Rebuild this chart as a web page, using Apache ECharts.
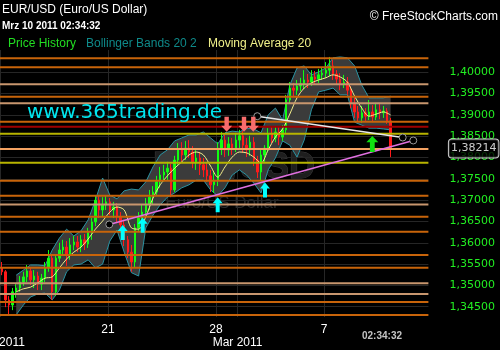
<!DOCTYPE html>
<html><head><meta charset="utf-8">
<script src="https://cdn.jsdelivr.net/npm/echarts@6/dist/echarts.min.js"></script>
<style>html,body{margin:0;padding:0;background:#000;}#c{width:500px;height:350px;}</style>
</head><body><div id="c"></div>
<script>
// ---- data (4-hour candles, EUR/USD, Feb 14 - Mar 10 2011) ----
const tradingDays = ['02-14','02-15','02-16','02-17','02-18','02-21','02-22','02-23','02-24','02-25',
  '02-28','03-01','03-02','03-03','03-04','03-07','03-08','03-09','03-10'];
const slotHours = ['00','04','08','12','16','20'];
const openP = [1.3541,1.3532,1.3466,1.3454,1.3485,1.3494,1.3508,1.3520,1.3534,1.3513,1.3522,1.3503,1.3517,1.3541,1.3564,1.3485,1.3564,1.3583,1.3590,1.3571,1.3595,1.3602,1.3590,1.3607,1.3597,1.3625,1.3649,1.3700,1.3677,1.3689,1.3696,1.3677,1.3684,1.3661,1.3642,1.3607,1.3578,1.3555,1.3635,1.3658,1.3672,1.3691,1.3707,1.3719,1.3743,1.3759,1.3766,1.3775,1.3724,1.3794,1.3818,1.3806,1.3822,1.3813,1.3790,1.3799,1.3783,1.3771,1.3757,1.3736,1.3747,1.3822,1.3841,1.3818,1.3832,1.3822,1.3841,1.3851,1.3829,1.3818,1.3836,1.3794,1.3766,1.3806,1.3822,1.3855,1.3846,1.3860,1.3848,1.3865,1.3935,1.3963,1.3958,1.3968,1.3973,1.3982,1.3977,1.3989,1.3984,1.3994,1.3998,1.4005,1.4015,1.3996,1.3984,1.3973,1.3977,1.3958,1.3928,1.3907,1.3893,1.3905,1.3897,1.3907,1.3895,1.3912,1.3905,1.3909,1.3886];
const closeP = [1.3532,1.3466,1.3454,1.3485,1.3494,1.3508,1.3520,1.3534,1.3513,1.3522,1.3503,1.3517,1.3541,1.3564,1.3485,1.3564,1.3583,1.3590,1.3571,1.3595,1.3602,1.3590,1.3607,1.3597,1.3625,1.3649,1.3700,1.3677,1.3689,1.3696,1.3677,1.3684,1.3661,1.3642,1.3607,1.3578,1.3555,1.3635,1.3658,1.3672,1.3691,1.3707,1.3719,1.3743,1.3759,1.3766,1.3775,1.3724,1.3794,1.3818,1.3806,1.3822,1.3813,1.3790,1.3799,1.3783,1.3771,1.3757,1.3736,1.3747,1.3822,1.3841,1.3818,1.3832,1.3822,1.3841,1.3851,1.3829,1.3818,1.3836,1.3794,1.3766,1.3806,1.3822,1.3855,1.3846,1.3860,1.3848,1.3865,1.3935,1.3963,1.3958,1.3968,1.3973,1.3982,1.3977,1.3989,1.3984,1.3994,1.3998,1.4005,1.4015,1.3996,1.3984,1.3973,1.3977,1.3958,1.3928,1.3907,1.3893,1.3905,1.3897,1.3907,1.3895,1.3912,1.3905,1.3909,1.3886,1.38214];
const lowP = [1.3524,1.3449,1.3431,1.3442,1.3471,1.3485,1.3499,1.3508,1.3501,1.3494,1.3489,1.3489,1.3508,1.3532,1.3466,1.3475,1.3555,1.3569,1.3546,1.3560,1.3583,1.3578,1.3578,1.3583,1.3588,1.3607,1.3639,1.3658,1.3661,1.3677,1.3665,1.3658,1.3646,1.3625,1.3592,1.3564,1.3532,1.3541,1.3625,1.3649,1.3663,1.3677,1.3691,1.3710,1.3729,1.3743,1.3747,1.3707,1.3719,1.3783,1.3790,1.3794,1.3799,1.3775,1.3771,1.3759,1.3754,1.3743,1.3719,1.3717,1.3733,1.3806,1.3801,1.3804,1.3806,1.3813,1.3822,1.3811,1.3801,1.3804,1.3780,1.3752,1.3747,1.3790,1.3813,1.3834,1.3836,1.3829,1.3839,1.3855,1.3926,1.3944,1.3947,1.3956,1.3961,1.3963,1.3968,1.3973,1.3975,1.3982,1.3987,1.3991,1.3982,1.3970,1.3958,1.3963,1.3947,1.3916,1.3893,1.3883,1.3881,1.3886,1.3888,1.3883,1.3888,1.3890,1.3893,1.3879,1.3801];
const highP = [1.3555,1.3536,1.3475,1.3494,1.3503,1.3522,1.3532,1.3548,1.3541,1.3536,1.3532,1.3527,1.3555,1.3583,1.3571,1.3571,1.3600,1.3607,1.3604,1.3611,1.3616,1.3616,1.3618,1.3621,1.3635,1.3658,1.3712,1.3710,1.3707,1.3710,1.3705,1.3696,1.3693,1.3672,1.3654,1.3616,1.3595,1.3644,1.3672,1.3691,1.3705,1.3724,1.3733,1.3757,1.3778,1.3783,1.3790,1.3785,1.3804,1.3834,1.3836,1.3839,1.3841,1.3827,1.3818,1.3813,1.3799,1.3787,1.3771,1.3766,1.3836,1.3860,1.3853,1.3848,1.3846,1.3858,1.3865,1.3862,1.3846,1.3851,1.3848,1.3804,1.3818,1.3829,1.3869,1.3872,1.3874,1.3872,1.3876,1.3947,1.3977,1.3975,1.3982,1.3987,1.4005,1.3996,1.4005,1.4003,1.4008,1.4012,1.4024,1.4036,1.4029,1.4005,1.3998,1.3994,1.3989,1.3968,1.3940,1.3921,1.3921,1.3916,1.3935,1.3923,1.3928,1.3926,1.3921,1.3916,1.3893];

// Bollinger bands (20,2) and MA 20, read at every second candle
const bandIdx = [4,6,8,10,12,14,16,18,20,22,24,26,28,30,32,34,36,38,40,42,44,46,48,50,52,54,56,58,60,62,64,66,68,70,72,74,76,78,80,82,84,86,88,90,92,94,96,98,100,102,104,106,108];
const bbUpper = [1.3524,1.3536,1.3548,1.3548,1.3546,1.3583,1.3611,1.3632,1.3616,1.3628,1.3654,1.3700,1.3752,1.3712,1.3703,1.3722,1.3726,1.3724,1.3743,1.3778,1.3806,1.3818,1.3839,1.3846,1.3853,1.3853,1.3860,1.3846,1.3832,1.3858,1.3862,1.3860,1.3869,1.3867,1.3858,1.3900,1.3916,1.3888,1.3970,1.4010,1.4015,1.3994,1.4001,1.4010,1.4034,1.4036,1.4034,1.4015,1.3970,1.3940,1.3940,1.3940,1.3944];
const bbLower = [1.3431,1.3454,1.3473,1.3480,1.3482,1.3466,1.3489,1.3532,1.3548,1.3550,1.3560,1.3541,1.3550,1.3604,1.3630,1.3578,1.3530,1.3522,1.3635,1.3665,1.3689,1.3707,1.3717,1.3729,1.3736,1.3747,1.3747,1.3724,1.3710,1.3729,1.3759,1.3771,1.3759,1.3740,1.3717,1.3771,1.3799,1.3839,1.3829,1.3801,1.3841,1.3912,1.3954,1.3958,1.3963,1.3947,1.3947,1.3883,1.3876,1.3869,1.3869,1.3867,1.3865];
const ma20 = [1.3485,1.3492,1.3496,1.3506,1.3517,1.3520,1.3541,1.3562,1.3578,1.3590,1.3609,1.3632,1.3651,1.3672,1.3684,1.3677,1.3635,1.3632,1.3661,1.3705,1.3736,1.3757,1.3775,1.3790,1.3806,1.3813,1.3806,1.3780,1.3754,1.3778,1.3801,1.3813,1.3811,1.3801,1.3787,1.3818,1.3848,1.3867,1.3902,1.3940,1.3963,1.3975,1.3982,1.3987,1.3994,1.3989,1.3977,1.3944,1.3916,1.3897,1.3902,1.3907,1.3900];

// horizontal price levels
const levelPrices = [1.40329,1.40117,1.39719,1.39428,1.39273,1.38841,1.38724,1.38560,1.38201,1.37879,1.37457,1.37102,1.36899,1.36612,1.36260,1.35714,1.35416,1.35050,1.34799,1.34608,1.34307];
const levelKinds  = ['o','o','t','o','t','o','r','y','s','y','o','o','t','o','o','o','o','t','t','o','o'];

// trend lines & signal arrows: [candle-slot position, price]
const trendWhite  = [[71.47,1.3897],[111.86,1.3847]];
const trendViolet = [[30.36,1.3643],[114.8,1.3840]];
const arrowsCyanUp  = [[34.08,1.3624],[39.64,1.3641],[60.47,1.3689],[73.61,1.3724]];
const arrowsGreenUp = [[103.42,1.3832]];
const arrowsRedDown = [[62.96,1.3878],[67.78,1.3878],[70.36,1.3878]];
const lastPrice = 1.38214;

const yTicks = [1.345,1.350,1.355,1.360,1.365,1.370,1.375,1.380,1.385,1.390,1.395,1.400];
const xTickSlots  = [0, 30, 60, 66, 90];
const xTickLabels = ['\nFeb 2011', '21', '28', '\nMar 2011', '7'];
const totalSlots = 119;

// ---- build ----
const categories = [];
tradingDays.forEach(d => slotHours.forEach(h => categories.push('2011-' + d + ' ' + h + ':00')));
categories.length = openP.length;
while (categories.length < totalSlots) categories.push('');

const candleData = openP.map((o, i) => [o, closeP[i], lowP[i], highP[i]]);
const levelColor = {o:'#c8640a', t:'#c8966e', r:'#a00000', y:'#b8b400', s:'#f4a262'};

const series = [
  {name:'bbBase', type:'line', xAxisIndex:0, stack:'bb', symbol:'none', silent:true, z:1,
   lineStyle:{opacity:0}, data: bandIdx.map((x,k)=>[x, bbLower[k]])},
  {name:'bbFill', type:'line', xAxisIndex:0, stack:'bb', symbol:'none', silent:true, z:1,
   lineStyle:{opacity:0}, areaStyle:{color:'#3b3b3b', opacity:1},
   data: bandIdx.map((x,k)=>[x, +(bbUpper[k]-bbLower[k]).toFixed(5)])},
  {name:'bbUpper', type:'line', xAxisIndex:0, symbol:'none', silent:true, z:2,
   lineStyle:{color:'#2a93a3', width:1}, data: bandIdx.map((x,k)=>[x, bbUpper[k]])},
  {name:'bbLower', type:'line', xAxisIndex:0, symbol:'none', silent:true, z:2,
   lineStyle:{color:'#2a93a3', width:1}, data: bandIdx.map((x,k)=>[x, bbLower[k]])},
  {name:'Price History', type:'candlestick', xAxisIndex:0, z:3, barMaxWidth:2.4,
   itemStyle:{color:'#11ff11', color0:'#ff1a1a', borderColor:'#11ff11', borderColor0:'#ff1a1a', borderWidth:1},
   data: candleData},
  {name:'MA20', type:'line', xAxisIndex:0, symbol:'none', silent:true, z:4, smooth:0.3,
   lineStyle:{color:'#f4ee8c', width:1}, data: bandIdx.map((x,k)=>[x, ma20[k]])}
];
levelPrices.forEach((v, k) => {
  series.push({type:'line', xAxisIndex:1, symbol:'none', silent:true, z:5,
    lineStyle:{color: levelColor[levelKinds[k]], width:2}, data:[[0, v],[totalSlots, v]]});
});
series.push({type:'line', xAxisIndex:1, z:6, silent:true, symbol:'circle', symbolSize:7,
  itemStyle:{color:'#000', borderColor:'#9a9a9a', borderWidth:1},
  lineStyle:{color:'#e8e8e8', width:1.5}, data: trendWhite});
series.push({type:'line', xAxisIndex:1, z:6, silent:true, symbol:'circle', symbolSize:7,
  itemStyle:{color:'#000', borderColor:'#9a9a9a', borderWidth:1},
  lineStyle:{color:'#e070e0', width:1.5}, data: trendViolet});
const upPath = 'path://M5,0 L10,6 L7,6 L7,15 L3,15 L3,6 L0,6 Z';
const downPath = 'path://M3,0 L7,0 L7,9 L10,9 L5,15 L0,9 L3,9 Z';
series.push({type:'scatter', xAxisIndex:1, z:7, silent:true, symbol:upPath, symbolSize:[10,15],
  itemStyle:{color:'#00ffff', opacity:1}, data: arrowsCyanUp});
series.push({type:'scatter', xAxisIndex:1, z:7, silent:true, symbol:upPath, symbolSize:[12,16],
  itemStyle:{color:'#10e010', opacity:1}, data: arrowsGreenUp});
series.push({type:'scatter', xAxisIndex:1, z:7, silent:true, symbol:downPath, symbolSize:[11,15],
  itemStyle:{color:'#f86c6c', opacity:1}, data: arrowsRedDown});
series.push({type:'scatter', xAxisIndex:1, z:8, silent:true, symbolSize:1, clip:false,
  itemStyle:{color:'rgba(0,0,0,0)'}, data:[[totalSlots, lastPrice]],
  label:{show:true, position:'right', distance:20, formatter: p => p.value[1].toFixed(5).replace('.', ','),
    color:'#ffffff', fontFamily:'DejaVu Sans', fontSize:11, backgroundColor:'#000',
    borderColor:'#ffffff', borderWidth:1, borderRadius:3, padding:[4,2,3,2]}});

const chart = echarts.init(document.getElementById('c'), null, {renderer:'canvas'});
chart.setOption({
  backgroundColor:'#000',
  animation:false,
  grid:{left:0, right:71.6, top:50, bottom:33, containLabel:false, outerBoundsMode:'none'},
  xAxis:[
    {type:'category', data:categories, boundaryGap:true, show:false},
    {type:'value', min:0, max:totalSlots, position:'bottom',
     axisLine:{show:false}, axisTick:{show:false, customValues:xTickSlots},
     axisLabel:{customValues:xTickSlots, color:'#ffffff', fontFamily:'Liberation Sans', fontSize:12, lineHeight:13, margin:6,
       formatter: v => { const k = xTickSlots.indexOf(Math.round(v)); return k >= 0 ? xTickLabels[k] : ''; }},
     splitLine:{show:true, lineStyle:{color:'#262626', width:1}}}
  ],
  yAxis:{type:'value', position:'right', min:1.34259, max:1.40523, scale:true,
    axisLine:{show:false}, axisTick:{show:false, customValues:yTicks},
    axisLabel:{customValues:yTicks, color:'#22ee22', fontFamily:'DejaVu Sans', fontSize:11, margin:21,
      formatter: v => v.toFixed(5).replace('.', ',')},
    splitLine:{show:true, lineStyle:{color:'#262626', width:1}}},
  graphic:[
    {type:'text', z:0, x:153, y:150, style:{text:'EUR/USD', font:'bold 36px "Liberation Sans"', fill:'#1e1e1e', stroke:'#3c3c3c', lineWidth:1, verticalAlign:'top'}},
    {type:'text', z:0, x:222, y:203, style:{text:'Euro/US Dollar', font:'17px "Liberation Sans"', fill:'#2c2c2c', align:'center', verticalAlign:'middle'}},
    {type:'text', z:100, x:2, y:10, style:{text:'EUR/USD (Euro/US Dollar)', font:'12px "Liberation Sans"', fill:'#ffffff', verticalAlign:'middle'}},
    {type:'text', z:100, x:2, y:26, style:{text:'Mrz 10 2011 02:34:32', font:'bold 10px "Liberation Sans"', fill:'#ffffff', verticalAlign:'middle'}},
    {type:'text', z:100, x:498, y:17, style:{text:'\u00a9 FreeStockCharts.com', font:'12px "Liberation Sans"', fill:'#ffffff', align:'right', verticalAlign:'middle'}},
    {type:'text', z:100, x:8, y:43.5, style:{text:'Price History', font:'12px "Liberation Sans"', fill:'#22dd22', verticalAlign:'middle'}},
    {type:'text', z:100, x:86, y:43.5, style:{text:'Bollinger Bands 20 2', font:'12px "Liberation Sans"', fill:'#0e8a8a', verticalAlign:'middle'}},
    {type:'text', z:100, x:208, y:43.5, style:{text:'Moving Average 20', font:'12px "Liberation Sans"', fill:'#f0f08a', verticalAlign:'middle'}},
    {type:'text', z:100, x:27, y:113, style:{text:'www.365trading.de', font:'20px "DejaVu Sans"', fill:'#00e5ee', verticalAlign:'middle'}},
    {type:'text', z:100, x:362, y:336, style:{text:'02:34:32', font:'bold 10px "Liberation Sans"', fill:'#c4c4c4', verticalAlign:'middle'}}
  ],
  series: series
});
</script>
</body></html>
